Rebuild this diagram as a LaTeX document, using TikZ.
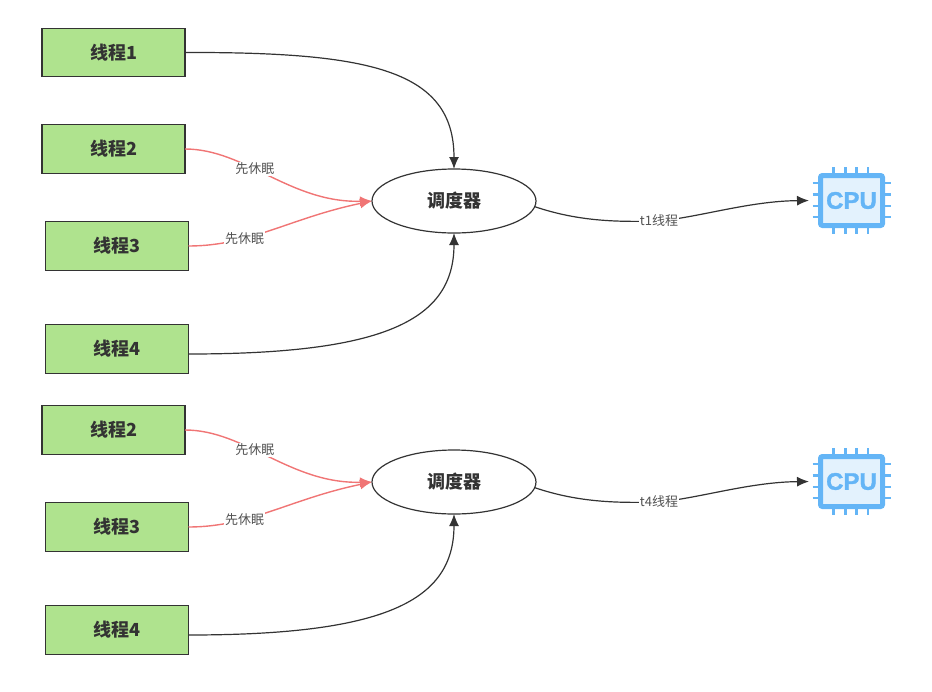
\documentclass[tikz,border=0pt]{standalone}
\usepackage{fontspec}
\usepackage{amsmath}
\setmainfont{Noto Sans CJK SC}
\newfontfamily\cpufont[FakeBold=1.2]{Liberation Sans Bold}
\usetikzlibrary{arrows.meta,shapes.geometric}
\definecolor{boxgreen}{HTML}{AFE38E}
\definecolor{darkline}{HTML}{333333}
\definecolor{sleepred}{HTML}{F07575}
\definecolor{chipblue}{HTML}{64B5F6}
\definecolor{chipfill}{HTML}{E3F2FD}
\tikzset{
    thread/.style={draw=darkline, line width=1.2pt, fill=boxgreen, text=darkline, minimum width=143pt, minimum height=48.5pt, inner sep=0pt, outer sep=0pt, font=\fontsize{18}{18}\selectfont\bfseries},
    sched/.style={draw=darkline, line width=1.2pt, fill=white, text=darkline, ellipse, minimum width=164pt, minimum height=64pt, inner sep=0pt, outer sep=0pt, font=\fontsize{18}{18}\selectfont\bfseries},
    chip/.style={draw=chipblue, line width=5pt, fill=chipfill, rounded corners=2pt, text=chipblue, minimum width=62pt, minimum height=50pt, inner sep=0pt, outer sep=2.5pt, font=\fontsize{24}{24}\cpufont},
    pin/.style={draw=chipblue, line width=2.5pt},
    run/.style={draw=darkline, line width=1.2pt, -{Latex[length=12pt,width=10pt]}},
    sleep/.style={draw=sleepred, line width=1.4pt, -{Latex[length=12pt,width=10pt]}},
    tag/.style={fill=white, text=darkline!85, inner sep=1pt, font=\fontsize{13}{13}\selectfont},
}
\newcommand{\chippins}[2]{%
    \foreach \d in {-17.5,-6,5.5,16.5} {
        \draw[pin] (#1-39,#2+\d) -- (#1-33,#2+\d);
        \draw[pin] (#1+33,#2+\d) -- (#1+39,#2+\d);
    }
    \foreach \d in {-18,-6,5,16.5} {
        \draw[pin] (#1+\d,#2-33.5) -- (#1+\d,#2-27);
        \draw[pin] (#1+\d,#2+27) -- (#1+\d,#2+33.5);
    }
}
\begin{document}
\begin{tikzpicture}[x=1pt, y=-1pt]
    \useasboundingbox (0,0) rectangle (932,691);
    % upper group
    \node[thread] (t1) at (113.5,52.5) {线程1};
    \node[thread] (t2) at (113.5,149) {线程2};
    \node[thread] (t3) at (117,246) {线程3};
    \node[thread] (t4) at (117,349) {线程4};
    \node[sched] (s1) at (454,201) {调度器};
    \chippins{851.5}{200.5}
    \node[chip] (cpu1) at (851.5,200.5) {CPU};
    \draw[run] (t1.east) .. controls (370,52) and (454,70) .. (s1.north);
    \draw[sleep] (t2.east) .. controls (245,149) and (290,203) .. (s1.west) node[tag, pos=.41] {先休眠};
    \draw[sleep] (t3.east) .. controls (250,246) and (290,218) .. (s1.west) node[tag, pos=.33] {先休眠};
    \draw[run] (t4.-4) .. controls (385,354) and (454,320) .. (s1.south);
    \draw[run, shorten >=9pt] (s1.-4) .. controls (580,222) and (620,222) .. (659,221) node[tag] (r1) {t1线程} .. controls (700,217) and (750,201) .. (cpu1.west);
    % lower group
    \node[thread] (t5) at (113.5,430) {线程2};
    \node[thread] (t6) at (117,527) {线程3};
    \node[thread] (t7) at (117,630) {线程4};
    \node[sched] (s2) at (454,482) {调度器};
    \chippins{851.5}{481.5}
    \node[chip] (cpu2) at (851.5,481.5) {CPU};
    \draw[sleep] (t5.east) .. controls (245,430) and (290,484) .. (s2.west) node[tag, pos=.41] {先休眠};
    \draw[sleep] (t6.east) .. controls (250,527) and (290,499) .. (s2.west) node[tag, pos=.33] {先休眠};
    \draw[run] (t7.-4) .. controls (385,635) and (454,601) .. (s2.south);
    \draw[run, shorten >=9pt] (s2.-4) .. controls (580,503) and (620,503) .. (659,502) node[tag] (r2) {t4线程} .. controls (700,498) and (750,482) .. (cpu2.west);
\end{tikzpicture}
\end{document}
